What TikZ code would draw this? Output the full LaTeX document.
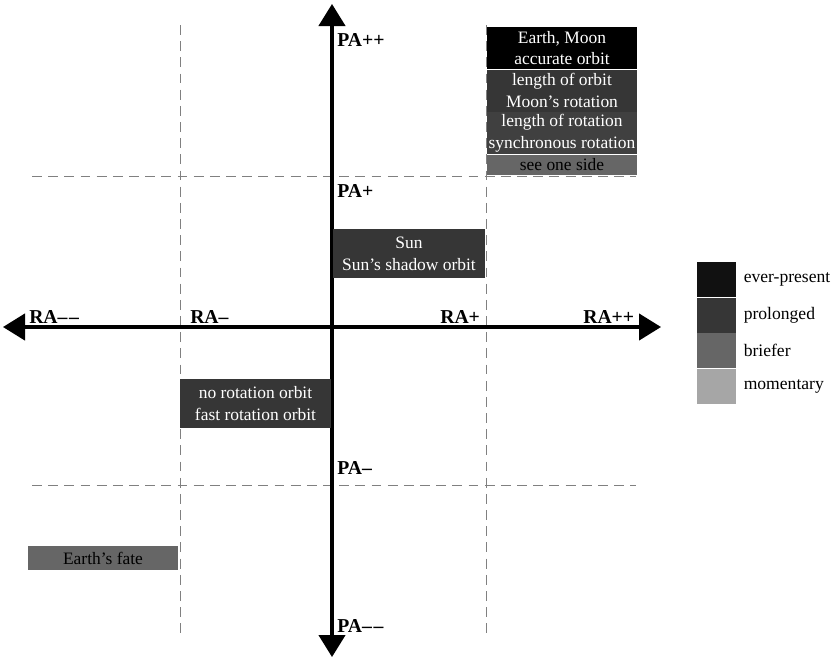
\documentclass[tikz,border=0pt]{standalone}
\usepackage{fontspec}
\setmainfont{Liberation Serif}
\usepackage{xcolor}
\usetikzlibrary{arrows.meta,positioning}

\definecolor{evergray}{HTML}{111111}
\definecolor{longgray}{HTML}{363636}
\definecolor{briefgray}{HTML}{666666}
\definecolor{momentgray}{HTML}{A6A6A6}

\newcommand{\dd}{–\kern1.2pt–}

\begin{document}
\begin{tikzpicture}[
  x=0.025cm, y=-0.025cm,
  axis/.style={line width=2.2pt, -{Triangle[width=0.66cm, length=0.55cm]}},
  grid/.style={gray, line width=0.6pt, dash pattern=on 7pt off 4.5pt},
  lbl/.style={font=\fontsize{14}{16}\selectfont\bfseries, anchor=base west, inner sep=0pt},
  cell/.style={rectangle, inner sep=0pt, minimum width=3.75cm, minimum height=1.05cm,
               align=center, text=white, font=\fontsize{12.4}{15.4}\selectfont},
  swatch/.style={rectangle, inner sep=0pt, minimum width=0.975cm, minimum height=0.875cm},
  key/.style={font=\fontsize{12.5}{14}\selectfont, anchor=west, inner sep=0pt}
]
\useasboundingbox (0,0) rectangle (839,659);

%% Dashed grid
\coordinate (vl top) at (180,25);  \coordinate (vl bot) at (180,635);
\coordinate (vr top) at (486,25);  \coordinate (vr bot) at (486,635);
\coordinate (ht left) at (32,176); \coordinate (ht right) at (636,176);
\coordinate (hb left) at (32,485); \coordinate (hb right) at (636,485);
\draw[grid] (vl top) -- (vl bot);
\draw[grid] (vr top) -- (vr bot);
\draw[grid] (ht left) -- (ht right);
\draw[grid] (hb left) -- (hb right);

%% Axes
\coordinate (origin) at (332,327);
\coordinate (pa up) at (332,4);   \coordinate (pa down) at (332,657);
\coordinate (ra left) at (3,327); \coordinate (ra right) at (661,327);
\draw[axis] (origin) -- (pa up);
\draw[axis] (origin) -- (pa down);
\draw[axis] (origin) -- (ra left);
\draw[axis] (origin) -- (ra right);

%% Axis labels
\node[lbl] (paplusplus) at (337,46) {PA++};
\node[lbl] (paplus) at (337,197) {PA+};
\node[lbl] (paminus) at (337,474) {PA–};
\node[lbl] (paminusminus) at (337,632) {PA\dd};
\node[lbl] (raminusminus) at (29,323) {RA\dd};
\node[lbl] (raminus) at (190,323) {RA–};
\node[lbl] (raplus) at (440,323) {RA+};
\node[lbl] (raplusplus) at (583,323) {RA++};

%% Top right stack
\node[cell, fill=black] (earth) at (562,48) {Earth, Moon\\accurate orbit};
\node[cell, fill=longgray, below=0pt of earth] (orbitlen) {length of orbit\\Moon’s rotation};
\node[cell, fill=longgray!95!white, below=0pt of orbitlen] (rotlen) {length of rotation\\synchronous rotation};
\node[cell, fill=briefgray, text=black, minimum height=0.5cm, below=0pt of rotlen] (oneside) {see one side};

%% Other boxes
\node[cell, fill=longgray, minimum width=3.8cm, minimum height=1.225cm] (sun) at (409,253.5) {Sun\\Sun’s shadow orbit};
\node[cell, fill=longgray, minimum width=3.78cm, minimum height=1.225cm] (norot) at (255.5,403.5) {no rotation orbit\\fast rotation orbit};
\node[cell, fill=briefgray, text=black, minimum height=0.6cm] (fate) at (103,558) {Earth’s fate};

%% Legend
\node[swatch, fill=evergray] (sw ever) at (716.5,279.5) {};
\node[swatch, fill=longgray, below=0pt of sw ever] (sw long) {};
\node[swatch, fill=briefgray, below=0pt of sw long] (sw brief) {};
\node[swatch, fill=momentgray, below=0pt of sw brief] (sw moment) {};
\node[key, right=0.18cm of sw ever] (k ever) {ever-present};
\node[key, right=0.18cm of sw long] (k long) {prolonged};
\node[key, right=0.18cm of sw brief] (k brief) {briefer};
\node[key, right=0.18cm of sw moment] (k moment) {momentary};

\end{tikzpicture}
\end{document}
